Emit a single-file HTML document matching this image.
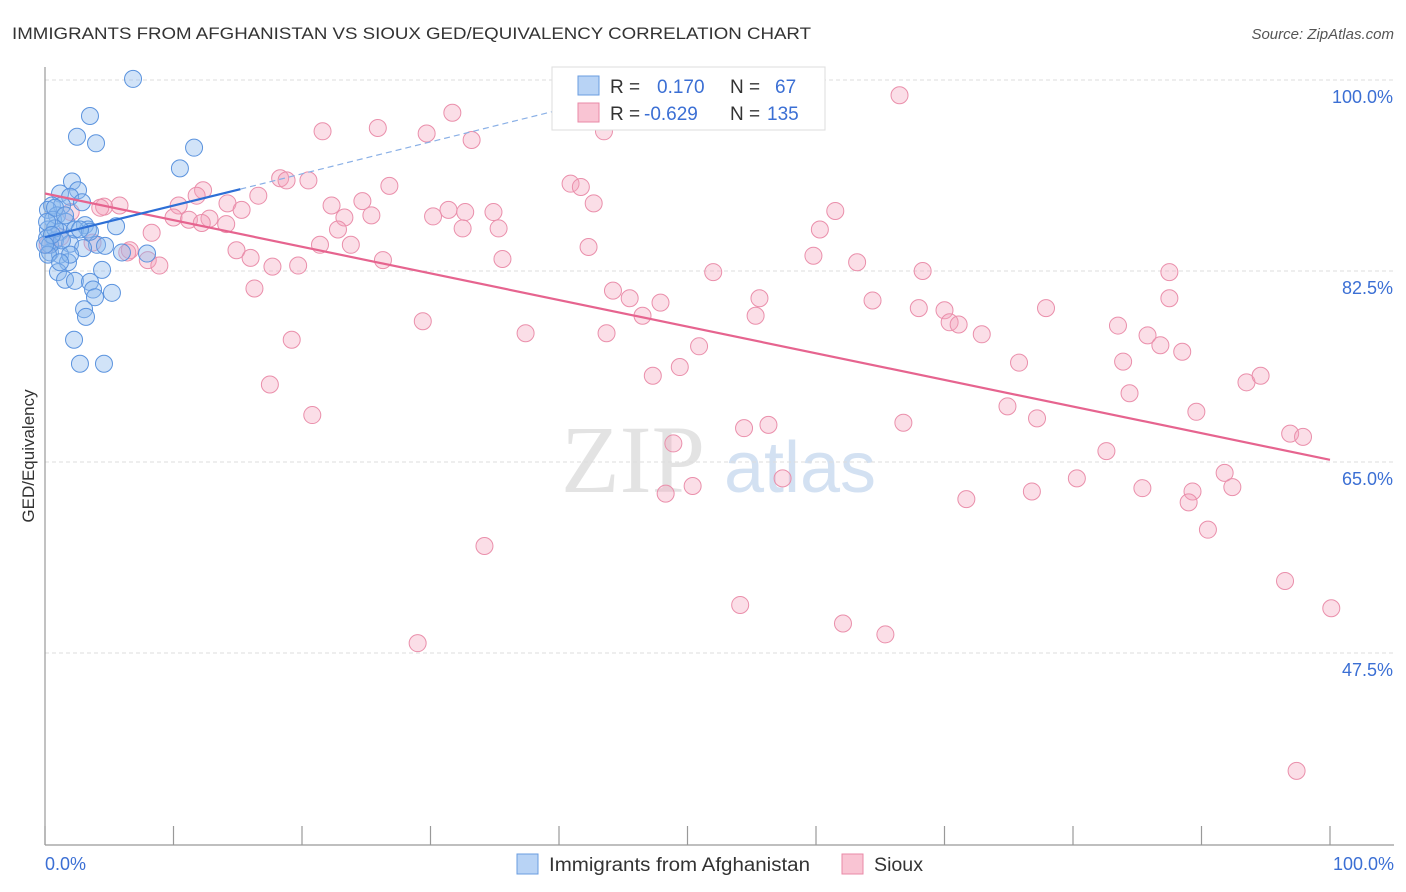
<!DOCTYPE html>
<html><head><meta charset="utf-8">
<style>
body{margin:0;background:#fff;font-family:"Liberation Sans",sans-serif;}
svg{display:block}
</style></head>
<body>
<svg id="chart" width="1406" height="892" xmlns="http://www.w3.org/2000/svg">
<text x="12" y="39" font-size="17" fill="#333" textLength="799" lengthAdjust="spacingAndGlyphs">IMMIGRANTS FROM AFGHANISTAN VS SIOUX GED/EQUIVALENCY CORRELATION CHART</text>
<text x="1394" y="39" font-size="15" fill="#555" font-style="italic" text-anchor="end">Source: ZipAtlas.com</text>
<g>
<text x="633" y="492" font-size="96" fill="#ddd" font-family="Liberation Serif,serif" text-anchor="middle" opacity="0.8">ZIP</text>
<text x="800" y="492" font-size="72" fill="#c9daf0" text-anchor="middle" opacity="0.8">atlas</text>
</g>
<g id="grid"></g>
<line x1="45" y1="67" x2="45" y2="845" stroke="#999" stroke-width="1.2"/>
<line x1="45" y1="845" x2="1394" y2="845" stroke="#999" stroke-width="1.2"/>
<g id="xticks"></g>
<text x="45" y="870" font-size="18" fill="#3b6fd4">0.0%</text>
<text x="1394" y="870" font-size="18" fill="#3b6fd4" text-anchor="end">100.0%</text>
<text transform="translate(34,456) rotate(-90)" font-size="17" fill="#333" text-anchor="middle">GED/Equivalency</text>
<g id="pts"></g>
<g id="trends"></g>
<g>
<rect x="552" y="67" width="273" height="63" fill="#fff" stroke="#ddd"/>
<rect x="578" y="76" width="21" height="19" fill="#b8d3f5" stroke="#6a9de0"/>
<rect x="578" y="103" width="21" height="19" fill="#f9c4d3" stroke="#e98aa7"/>
<text x="610" y="93" font-size="19" fill="#333">R = <tspan fill="#3b6fd4" x="657">0.170</tspan><tspan x="730" fill="#333">N = </tspan><tspan fill="#3b6fd4" x="775">67</tspan></text>
<text x="610" y="120" font-size="19" fill="#333">R = <tspan fill="#3b6fd4" x="644">-0.629</tspan><tspan x="730" fill="#333">N = </tspan><tspan fill="#3b6fd4" x="767">135</tspan></text>
</g>
<g>
<rect x="517" y="854" width="21" height="20" fill="#b8d3f5" stroke="#6a9de0"/>
<text x="549" y="871" font-size="19" fill="#333" textLength="261" lengthAdjust="spacingAndGlyphs">Immigrants from Afghanistan</text>
<rect x="842" y="854" width="21" height="20" fill="#f9c4d3" stroke="#e98aa7"/>
<text x="874" y="871" font-size="19" fill="#333" textLength="49" lengthAdjust="spacingAndGlyphs">Sioux</text>
</g>
</svg>
<script>
const yTicks=[100,82.5,65,47.5];
const yTickLabels=["100.0%","82.5%","65.0%","47.5%"];
const xTicks=[0,10,20,30,40,50,60,70,80,90,100];
const blueX=[6.85,3.5,2.49,3.97,11.6,10.5,2.1,1.17,2.57,1.95,2.88,0.54,1.32,0.23,0.93,0.62,1.63,3.11,5.53,0.23,1.17,3.35,0.16,0.78,1.95,4.05,4.67,2.96,5.99,7.94,0.39,1.17,1.79,1.01,4.44,1.56,2.33,3.5,3.74,5.21,3.89,3.04,3.19,2.26,2.72,4.59,0.39,0.23,1.32,0.78,2.33,3.5,0.16,0.78,1.56,1.95,2.72,1.17,0.54,0];
const blueY=[100.1,96.7,94.8,94.2,93.8,91.9,90.7,89.6,89.9,89.3,88.8,88.5,88.5,88.1,87.6,87.2,87.0,86.7,86.6,86.3,86.1,86.3,85.5,85.3,85.0,84.9,84.8,84.6,84.2,84.1,84.2,84.0,83.3,82.4,82.6,81.7,81.6,81.5,80.8,80.5,80.1,79.0,78.3,76.2,74.0,74.0,84.9,84.0,85.3,86.4,86.3,86.1,87.0,88.3,87.6,84.0,86.3,83.3,85.8,84.9];
const pinkX=[66.5,31.7,21.6,25.9,29.7,33.2,43.5,18.3,18.8,20.5,26.8,40.9,41.7,12.3,11.8,16.6,24.7,22.3,42.7,14.2,15.3,5.8,4.6,10.4,31.4,30.2,32.7,34.9,25.4,23.3,10.0,11.2,12.8,14.1,2.0,4.3,61.5,32.5,35.3,22.8,60.3,8.3,3.7,21.4,23.8,14.9,6.6,42.3,6.4,8.0,8.9,16.0,17.7,19.7,26.3,35.6,59.8,63.2,52.0,68.3,87.5,16.3,44.2,45.5,47.9,55.6,87.5,64.4,68.0,77.9,46.5,55.3,70.0,70.4,71.1,29.4,37.4,43.7,72.9,83.5,85.8,86.8,88.5,19.2,50.9,75.8,83.9,47.3,49.4,93.5,94.6,17.5,84.4,74.9,20.8,89.6,77.2,66.8,56.3,54.4,96.9,97.9,48.9,82.6,91.8,57.4,50.4,80.3,48.3,71.7,76.8,85.4,89.3,89.0,92.4,90.5,34.2,96.5,100.1,54.1,62.1,65.4,29.0,97.4,12.2,1.2,0.2];
const pinkY=[98.6,97.0,95.3,95.6,95.1,94.5,95.3,91.0,90.8,90.8,90.3,90.5,90.2,89.9,89.4,89.4,88.9,88.5,88.7,88.7,88.1,88.5,88.4,88.5,88.1,87.5,87.9,87.9,87.6,87.4,87.4,87.2,87.3,86.8,87.9,88.3,88.0,86.4,86.4,86.3,86.3,86.0,85.1,84.9,84.9,84.4,84.4,84.7,84.2,83.5,83.0,83.7,82.9,83.0,83.5,83.6,83.9,83.3,82.4,82.5,82.4,80.9,80.7,80.0,79.6,80.0,80.0,79.8,79.1,79.1,78.4,78.4,78.9,77.8,77.6,77.9,76.8,76.8,76.7,77.5,76.6,75.7,75.1,76.2,75.6,74.1,74.2,72.9,73.7,72.3,72.9,72.1,71.3,70.1,69.3,69.6,69.0,68.6,68.4,68.1,67.6,67.3,66.7,66.0,64.0,63.5,62.8,63.5,62.1,61.6,62.3,62.6,62.3,61.3,62.7,58.8,57.3,54.1,51.6,51.9,50.2,49.2,48.4,36.7,86.9,85.6,84.9];
const blueTrend=[[0,85.6],[15.2,90.0]];
const blueTrendExt=[[15.2,90.0],[40.5,97.4]];
const pinkTrend=[[0,89.6],[100,65.2]];

const NS="http://www.w3.org/2000/svg";
const sx=v=>45+v*12.85;
const sy=v=>80+(100-v)*10.914;
function mk(tag,attrs,parent){const e=document.createElementNS(NS,tag);for(const k in attrs)e.setAttribute(k,attrs[k]);parent.appendChild(e);return e;}
const grid=document.getElementById('grid');
yTicks.forEach((t,i)=>{
  const l=mk('line',{x1:45,x2:1394,y1:sy(t),y2:sy(t),stroke:'#ddd','stroke-dasharray':'4,3'},grid);
  
  
  const tx=mk('text',{x:1393,y:sy(t)+23,'font-size':18,fill:'#3b6fd4','text-anchor':'end'},grid);
  tx.textContent=yTickLabels[i];
  
  
});
const xt=document.getElementById('xticks');
xTicks.forEach(t=>{
  const l=mk('line',{x1:sx(t),x2:sx(t),y1:826,y2:845,stroke:'#999','stroke-width':1.2},xt);
  
  
});
const pts=document.getElementById('pts');
pinkX.forEach((x,i)=>{
  const c=mk('circle',{cx:sx(x),cy:sy(pinkY[i]),r:8.5,fill:'rgba(244,160,186,0.35)',stroke:'#ea8fab','stroke-width':1},pts);
  
  
});
blueX.forEach((x,i)=>{
  const c=mk('circle',{cx:sx(x),cy:sy(blueY[i]),r:8.5,fill:'rgba(140,185,238,0.4)',stroke:'#5b93de','stroke-width':1},pts);
  
  
});
const tr=document.getElementById('trends');
const p1=mk('line',{x1:sx(pinkTrend[0][0]),y1:sy(pinkTrend[0][1]),x2:sx(pinkTrend[1][0]),y2:sy(pinkTrend[1][1]),stroke:'#e6648f','stroke-width':2.2},tr);


const b2=mk('line',{x1:sx(blueTrendExt[0][0]),y1:sy(blueTrendExt[0][1]),x2:sx(blueTrendExt[1][0]),y2:sy(blueTrendExt[1][1]),stroke:'#8ab0e6','stroke-width':1.2,'stroke-dasharray':'6,4'},tr);


const b1=mk('line',{x1:sx(blueTrend[0][0]),y1:sy(blueTrend[0][1]),x2:sx(blueTrend[1][0]),y2:sy(blueTrend[1][1]),stroke:'#2d6fd6','stroke-width':2.2},tr);


</script>
</body></html>
